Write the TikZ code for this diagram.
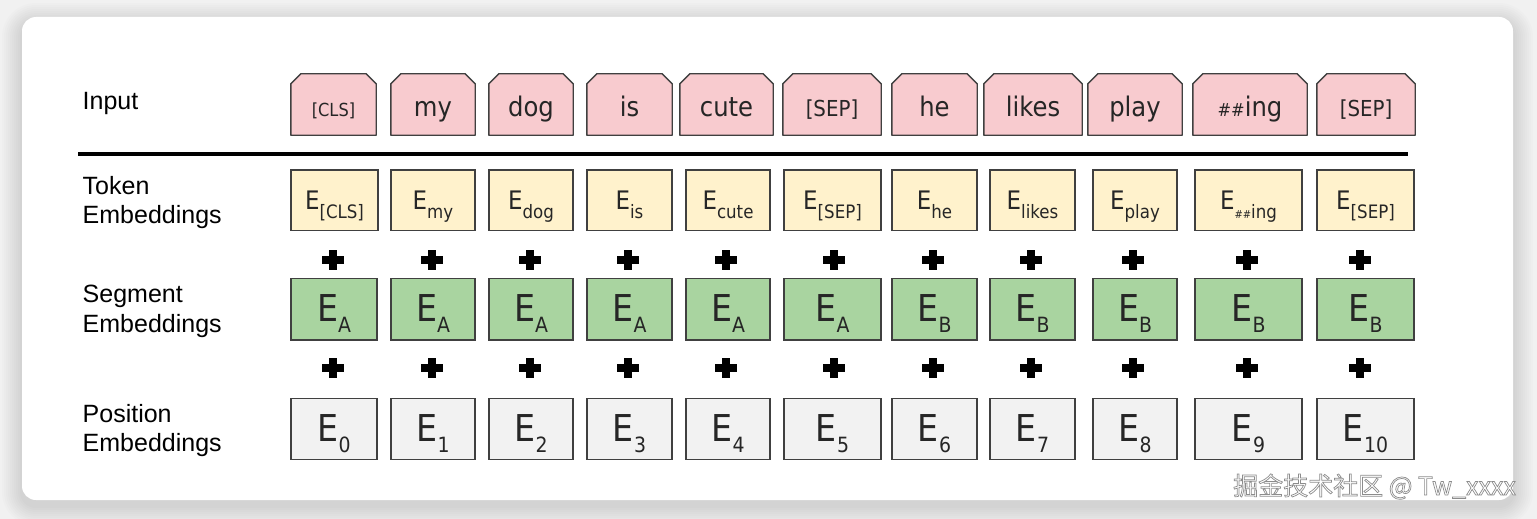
\documentclass[tikz,border=0pt]{standalone}
\usepackage{fontspec}
\setmainfont{Liberation Sans}
\newfontfamily\boxfont[FakeStretch=0.9]{DejaVu Sans}
\newfontfamily\wmfont{Noto Sans CJK SC}
\pgfdeclarelayer{bottom}
\pgfdeclarelayer{shapes}
\pgfsetlayers{bottom,shapes,main}
\definecolor{pagebg}{RGB}{241,241,241}
\definecolor{inpink}{RGB}{248,203,207}
\definecolor{tokyellow}{RGB}{255,242,204}
\definecolor{seggreen}{RGB}{169,212,160}
\definecolor{posgray}{RGB}{242,242,242}
\definecolor{edgegray}{RGB}{64,64,64}
\newcommand\TokE[1]{\fontsize{25.5}{25.5}\selectfont E\raisebox{-9pt}{\fontsize{18.5}{18.5}\selectfont #1}}
\newcommand\BigE[1]{\fontsize{37}{37}\selectfont E\raisebox{-11pt}{\fontsize{21}{21}\selectfont #1}}
\newcommand\outlined[1]{\special{pdf:literal direct 0.55 G 0.7 w 2 Tr}#1\special{pdf:literal direct 0 Tr}}
\begin{document}
\begin{tikzpicture}[x=1pt,y=-1pt,
  box/.style={draw=edgegray, line width=1.4pt, inner sep=0pt, text=black!85, font=\boxfont},
  intext/.style={inner sep=0pt, text=black!85, font=\boxfont, minimum height=61pt, text height=25pt, text depth=0pt},
  inshape/.style={draw=edgegray, line width=1.4pt, fill=inpink, line join=round},
  tokbox/.style={box, fill=tokyellow, minimum height=60.5pt, text height=18.6pt, text depth=0pt},
  segbox/.style={box, fill=seggreen, minimum height=61.7pt, text height=25pt, text depth=0pt},
  posbox/.style={box, fill=posgray, minimum height=61pt, text height=25.8pt, text depth=0pt},
  rowlabel/.style={anchor=base west, inner sep=0pt, font=\fontsize{25}{29.5}\selectfont, text=black},
  plussign/.style={line width=7.5pt, draw=black}
]
\useasboundingbox (0,0) rectangle (1537,519);
\begin{pgfonlayer}{bottom}
\fill[pagebg] (0,0) rectangle (1537,519);
% card shadow
\foreach \k in {1,...,10} {
  \pgfmathsetmacro\e{2*\k}
  \pgfmathsetmacro\rc{14+2*\k}
  \fill[black, opacity=0.013, rounded corners=\rc pt] (22-\e,17-\e+6) rectangle (1513+\e,500+\e+6);
}
\fill[white, rounded corners=14pt] (22,17) rectangle (1513,500);
\end{pgfonlayer}

% row labels
\node[rowlabel] (lin) at (82.5,109) {Input};
\node[rowlabel] (ltok) at (82.5,194) {\begin{tabular}[t]{@{}l@{}}Token\\Embeddings\end{tabular}};
\node[rowlabel] (lseg) at (82.5,302.5) {\begin{tabular}[t]{@{}l@{}}Segment\\Embeddings\end{tabular}};
\node[rowlabel] (lpos) at (82.5,422) {\begin{tabular}[t]{@{}l@{}}Position\\Embeddings\end{tabular}};

% separator line
\coordinate (lineL) at (78,154);
\coordinate (lineR) at (1408,154);
\draw[line width=4.5pt] (lineL) -- (lineR);

% input row: chamfered token boxes
\foreach \i/\xl/\xr/\txt in {
  1/291/376/{\fontsize{18}{18}\selectfont[CLS]},
  2/391/475/my, 3/489/573/dog, 4/587/672/is, 5/680/773/cute,
  6/783/881/{\fontsize{22}{22}\selectfont[SEP]},
  7/892/977/he, 8/984/1082/likes, 9/1088/1182/play,
  10/1193/1307/{{\fontsize{18}{18}\selectfont\#\#}ing},
  11/1317/1415/{\fontsize{22}{22}\selectfont[SEP]}}
{
  \node[intext, minimum width=\xr-\xl] (in\i) at ({(\xl+\xr)/2},104.5) {\fontsize{27}{27}\selectfont\txt};
  \begin{pgfonlayer}{shapes}
  \draw[inshape] (in\i.south west) -- ([yshift=-10pt]in\i.north west) -- ([xshift=10pt]in\i.north west)
    -- ([xshift=-10pt]in\i.north east) -- ([yshift=-10pt]in\i.north east) -- (in\i.south east) -- cycle;
  \end{pgfonlayer}
}

% token row
\foreach \i/\xl/\xr/\sub in {
  1/291/378/{[CLS]}, 2/391/475/my, 3/489/573/dog, 4/587/672/is, 5/686/770/cute,
  6/784/881/{[SEP]}, 7/892/977/he, 8/990/1075/likes, 9/1093/1177/play,
  10/1195/1302/{{\fontsize{11}{11}\selectfont\#\#}ing}, 11/1317/1414/{[SEP]}}
{
  \node[tokbox, minimum width=\xr-\xl] (tok\i) at ({(\xl+\xr)/2},200.25) {\TokE{\sub}};
}

% segment and position rows, plus signs
\foreach \i/\xl/\xr/\s/\px in {
  1/291/377/A/333, 2/391/475/A/432, 3/489/573/A/530, 4/587/672/A/628,
  5/686/770/A/726, 6/784/881/A/834, 7/892/977/B/933, 8/990/1075/B/1031,
  9/1093/1177/B/1133, 10/1195/1302/B/1247, 11/1317/1414/B/1360}
{
  \node[segbox, minimum width=\xr-\xl] (seg\i) at ({(\xl+\xr)/2},309.15) {\BigE{\s}};
  \pgfmathtruncatemacro\p{\i-1}
  \node[posbox, minimum width=\xr-\xl] (pos\i) at ({(\xl+\xr)/2},428.8) {\BigE{\p}};
  \draw[plussign] (\px-11,260) -- (\px+11,260) (\px,250) -- (\px,270);
  \draw[plussign] (\px-11,368) -- (\px+11,368) (\px,358) -- (\px,378);
}

% watermark
\node[anchor=base west, inner sep=0pt, text=white, font=\wmfont\fontsize{25}{25}\selectfont] (wm) at (1233,495) {\outlined{掘金技术社区 @ Tw\_xxxx}};
\end{tikzpicture}
\end{document}
